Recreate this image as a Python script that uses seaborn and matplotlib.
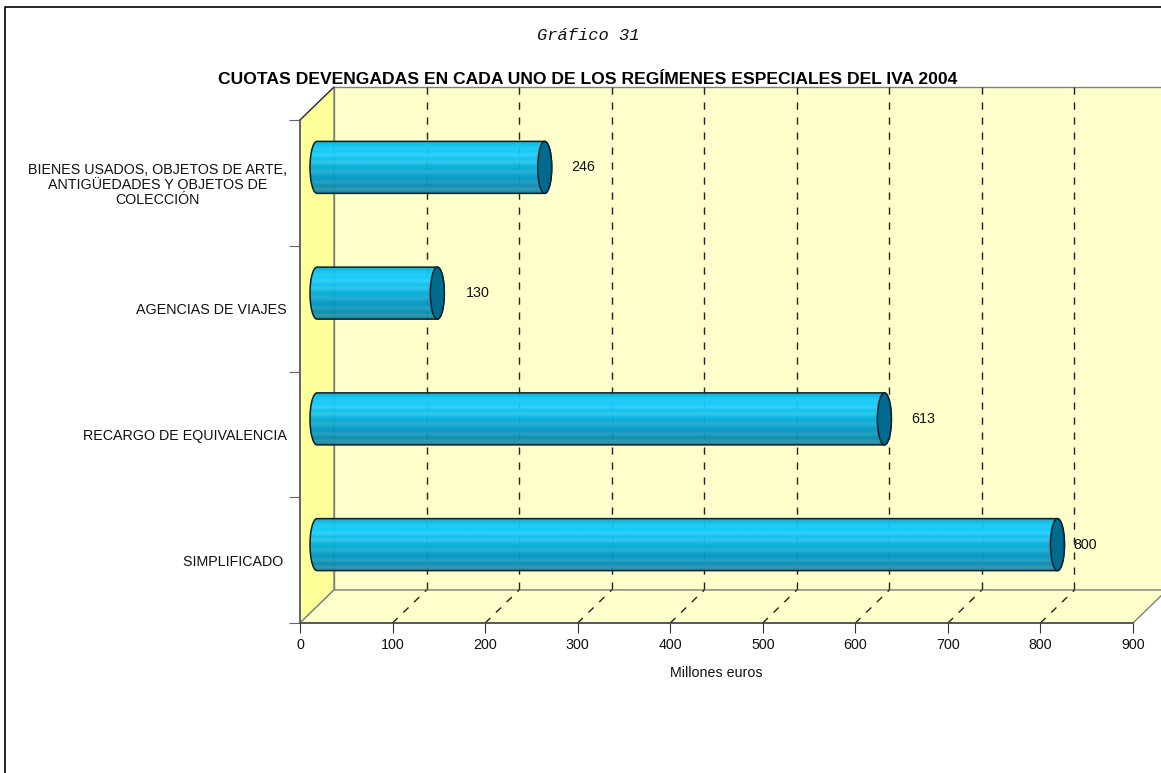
import numpy as np
import pandas as pd
import matplotlib.pyplot as plt
import seaborn as sns
from matplotlib.colors import LinearSegmentedColormap
from matplotlib.lines import Line2D
from matplotlib.patches import Ellipse, Polygon

# Data
categories = [
    'BIENES USADOS, OBJETOS DE ARTE,\nANTIGÜEDADES Y OBJETOS DE\nCOLECCIÓN',
    'AGENCIAS DE VIAJES',
    'RECARGO DE EQUIVALENCIA',
    'SIMPLIFICADO ',
]
values = [246, 130, 613, 800]
x_ticks = [0, 100, 200, 300, 400, 500, 600, 700, 800, 900]

sns.set_theme(style='white')
plt.rcParams['font.family'] = ['Liberation Sans', 'DejaVu Sans']

W, H = 1161, 773
fig = plt.figure(figsize=(W / 100, H / 100), dpi=100, facecolor='white')
ax = fig.add_axes([300 / W, 1 - 623 / H, 833 / W, 503 / H])
ax.patch.set_visible(False)

df = pd.DataFrame({'cat': categories, 'val': values})
sns.barplot(data=df, y='cat', x='val', orient='h', width=52 / 125.75, ax=ax,
            color='#00ccff', saturation=1)
ax.set_xlim(0, 900)
ax.set_ylim(3.5, -0.5)

# Size of the 3D box in data units
DX = 34 * 900 / 833
DY = 33 * 4 / 503
top, bottom = -0.5, 3.5
GRAY = '#808080'
TEXT = '#111111'
FS = 10.3

# Walls
ax.add_patch(Polygon([(0, top), (DX, top - DY), (DX, bottom - DY), (0, bottom)],
                     fc='#ffff99', ec=GRAY, lw=1, clip_on=False, zorder=0))
ax.add_patch(Polygon([(DX, top - DY), (900 + DX, top - DY), (900 + DX, bottom - DY), (DX, bottom - DY)],
                     fc='#ffffcc', ec=GRAY, lw=1, clip_on=False, zorder=0))
ax.add_patch(Polygon([(0, bottom), (900, bottom), (900 + DX, bottom - DY), (DX, bottom - DY)],
                     fc='#ffffcc', ec=GRAY, lw=1, clip_on=False, zorder=0))
ax.plot([0, DX], [top, top - DY], color='#333333', lw=0.9, clip_on=False, zorder=1)

# Dashed grid on back wall and floor
for v in x_ticks[1:-1]:
    ax.plot([v + DX, v + DX], [top - DY, bottom - DY], color='#222222', lw=1,
            dashes=(5.2, 5.6), clip_on=False, zorder=1)
    ax.plot([v, v + DX], [bottom, bottom - DY], color='#222222', lw=1,
            dashes=(5.2, 5.6), clip_on=False, zorder=1)

# Cylinders, built on the bars seaborn drew
stops = ['#2aa0c0', '#00c4f5', '#1fc8f5', '#00ccff', '#33ccff', '#00c0f0', '#2cc4ec', '#00b4e0',
         '#00a8d4', '#20acd4', '#009ccc', '#0094c4', '#1f9cc4', '#0088b0', '#2a94b4', '#0a80a0']
cmap = LinearSegmentedColormap.from_list('cyl', stops, N=48)
cap_w = 14 * 900 / 833
theta = np.linspace(np.pi / 2, 3 * np.pi / 2, 40)
offsets = [56, 57, 56, 45]

for bar, val, off in zip(ax.patches[:len(values)], values, offsets):
    bar.set_visible(False)
    h = bar.get_height()
    yc = bar.get_y() + h / 2 - DY * 15.5 / 33
    x0 = DX / 2
    x1 = bar.get_width() + DX / 2
    lx = x0 + cap_w / 2 * np.cos(theta)
    ly = yc + h / 2 * np.sin(theta)
    rx = x1 - cap_w / 2 * np.cos(theta)
    ry = yc - h / 2 * np.sin(theta)
    outline = Polygon(np.column_stack([np.r_[lx, rx], np.r_[ly, ry]]), fc='none',
                      ec='#06222c', lw=1.1, clip_on=False, zorder=4)
    ax.add_patch(outline)
    img = ax.imshow(np.linspace(0, 1, 48)[:, None], cmap=cmap, aspect='auto', alpha=0.95,
                    extent=[x0 - cap_w, x1 + cap_w, yc + h / 2, yc - h / 2], zorder=3)
    img.set_clip_path(outline)
    ax.add_patch(Ellipse((x1, yc), cap_w, h, fc='#006b8f', ec='#06222c', lw=1.1,
                         clip_on=False, zorder=5))
    ax.annotate(str(val), (val, yc), xytext=(off * 0.72, 0),
                textcoords='offset points', ha='center', va='center',
                fontsize=FS, color=TEXT, zorder=6)

ax.set_xlim(0, 900)
ax.set_ylim(3.5, -0.5)

# Axes
for s in ['top', 'right']:
    ax.spines[s].set_visible(False)
ax.spines['bottom'].set_color('#444444')
ax.spines['left'].set_color('#555555')
for s in ['bottom', 'left']:
    ax.spines[s].set_linewidth(1.1)
    ax.spines[s].set_zorder(2)

ax.set_xticks(x_ticks)
ax.set_yticks(range(len(categories)))
ax.set_yticklabels(categories, multialignment='center', linespacing=1.12)
ax.set_yticks(np.arange(-0.5, 4, 1), minor=True)
ax.tick_params(axis='x', length=7.2, width=0.8, color='#333333', pad=3.5, labelsize=FS, labelcolor=TEXT, bottom=True)
ax.tick_params(axis='y', which='major', length=0, pad=9.5, labelsize=FS, labelcolor=TEXT)
ax.tick_params(axis='y', which='minor', length=8, width=0.8, color='#666666', left=True)
ax.set_xlabel('Millones euros', fontsize=FS, labelpad=10, color=TEXT)
ax.set_ylabel('')

# Titles
fig.text(588 / W, 1 - 35 / H, 'Gráfico 31', ha='center', va='center', fontsize=12.3,
         style='italic', family=['Liberation Mono', 'DejaVu Sans Mono'], color=TEXT)
fig.text(588 / W, 1 - 80 / H, 'CUOTAS DEVENGADAS EN CADA UNO DE LOS REGÍMENES ESPECIALES DEL IVA 2004',
         ha='center', va='center', fontsize=12.6, fontweight='bold', color='black')

# Outer frame, open on the right and bottom
fig.add_artist(Line2D([5 / W, 5 / W, 1], [0, 1 - 7 / H, 1 - 7 / H], color='black', lw=1.2))

fig.savefig('out.png', dpi=100)
plt.close(fig)
